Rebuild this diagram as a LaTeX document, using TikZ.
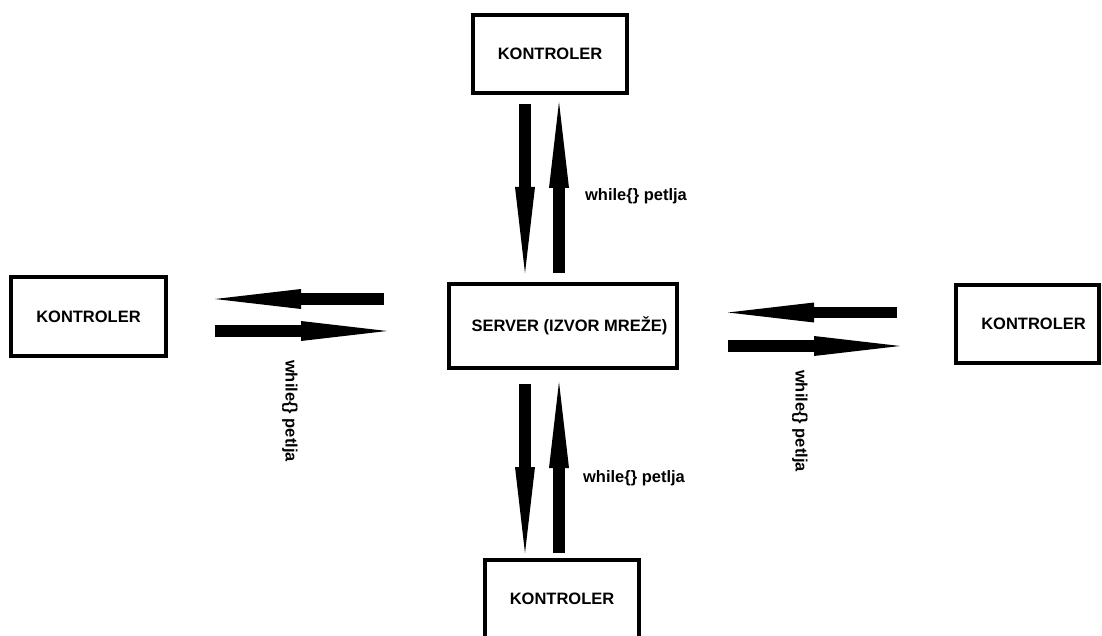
\documentclass[tikz,border=0pt]{standalone}
\usepackage{fontspec}
\setmainfont{Liberation Sans}
\usetikzlibrary{arrows.meta}
\tikzset{
  box/.style={draw=black, line width=4pt, fill=white, inner sep=0pt,
    font=\fontsize{16.5}{19}\selectfont\bfseries},
  lbl/.style={inner sep=0pt, font=\fontsize{16.5}{19}\selectfont\bfseries},
  bigarrow/.style={line width=11.5pt, line cap=butt,
    -{Triangle[length=86pt, width=20pt, line width=0pt]}}
}
\begin{document}
\begin{tikzpicture}[x=1pt, y=-1pt]
\useasboundingbox (0,0) rectangle (1102,636);
\clip (0,0) rectangle (1102,636);
% boxes
\node[box, minimum width=154pt, minimum height=78pt] (top) at (550,54) {KONTROLER};
\node[box, minimum width=155pt, minimum height=79pt] (left) at (88.5,316.5) {KONTROLER};
\node[box, minimum width=143pt, minimum height=78pt,
  label={[lbl, xshift=6pt]center:KONTROLER}] (right) at (1027.5,324) {};
\node[box, minimum width=228pt, minimum height=84pt,
  label={[lbl, xshift=6.5pt]center:SERVER (IZVOR MREŽE)}] (server) at (563,326) {};
\node[box, minimum width=154pt, minimum height=78pt] (bottom) at (562,599) {KONTROLER};
% arrow end points
\coordinate (tA1) at (525,104);  \coordinate (tA2) at (525,273);
\coordinate (tB1) at (559,273);  \coordinate (tB2) at (559,102);
\coordinate (bA1) at (525,384);  \coordinate (bA2) at (525,553);
\coordinate (bB1) at (559,553);  \coordinate (bB2) at (559,382);
\coordinate (lA1) at (384,299);  \coordinate (lA2) at (215,299);
\coordinate (lB1) at (215,331);  \coordinate (lB2) at (387,331);
\coordinate (rA1) at (897,312.5); \coordinate (rA2) at (728,312.5);
\coordinate (rB1) at (728,346);  \coordinate (rB2) at (900,346);
% arrows
\draw[bigarrow] (tA1) -- (tA2);
\draw[bigarrow] (tB1) -- (tB2);
\draw[bigarrow] (bA1) -- (bA2);
\draw[bigarrow] (bB1) -- (bB2);
\draw[bigarrow] (lA1) -- (lA2);
\draw[bigarrow] (lB1) -- (lB2);
\draw[bigarrow] (rA1) -- (rA2);
\draw[bigarrow] (rB1) -- (rB2);
% labels
\node[lbl] (lt) at (636,196) {while\{\} petlja};
\node[lbl] (lb) at (634,478) {while\{\} petlja};
\node[lbl, rotate=-90] (ll) at (290,411) {while\{\} petlja};
\node[lbl, rotate=-90] (lr) at (800,421) {while\{\} petlja};
\end{tikzpicture}
\end{document}
